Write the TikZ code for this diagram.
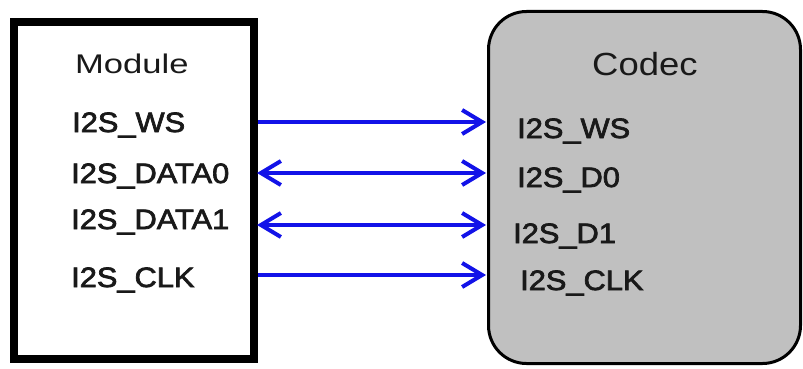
\documentclass[tikz,border=0pt]{standalone}
\usepackage{fontspec}
\setmainfont{Liberation Sans}
\newfontfamily\titlefontM[FakeStretch=1.28]{Liberation Sans}
\newfontfamily\titlefontC[FakeStretch=1.14]{Liberation Sans}
\newfontfamily\pinfont[FakeStretch=1.1,FakeBold=2.5]{Liberation Sans}
\usetikzlibrary{arrows.meta}
\definecolor{sigblue}{RGB}{18,18,232}
\definecolor{codecgray}{RGB}{192,192,192}
\definecolor{ink}{RGB}{25,25,25}
\begin{document}
\begin{tikzpicture}[x=1pt,y=-1pt,
  modulebox/.style={draw=black, line width=8pt, fill=white, rectangle,
    minimum width=240pt, minimum height=337pt, inner sep=0pt},
  codecbox/.style={draw=black, line width=3pt, fill=codecgray, rectangle,
    rounded corners=38pt, minimum width=312pt, minimum height=352pt, inner sep=0pt},
  pinlabel/.style={anchor=base west, inner sep=0pt, text=ink,
    font=\pinfont\fontsize{28pt}{30pt}\selectfont},
  signal/.style={draw=sigblue, line width=4pt,
    arrows={-Straight Barb[length=20pt,width=24pt,line width=4pt]}},
  bisignal/.style={signal,
    arrows={Straight Barb[length=20pt,width=24pt,line width=4pt]-Straight Barb[length=20pt,width=24pt,line width=4pt]}}]
  \useasboundingbox (0,0) rectangle (803,369);

  % blocks
  \node[modulebox] (module) at (134,190.5) {};
  \node[codecbox] (codec) at (644.5,187.5) {};

  % block titles
  \node[anchor=base west, inner sep=0pt, text=ink,
    font=\titlefontM\fontsize{27pt}{30pt}\selectfont] (mtitle) at (75,74) {Module};
  \node[anchor=base west, inner sep=0pt, text=ink,
    font=\titlefontC\fontsize{32pt}{36pt}\selectfont] (ctitle) at (592,76) {Codec};

  % module pins
  \node[pinlabel] (mws)  at (72,132) {I2S\_WS};
  \node[pinlabel] (md0)  at (71,183) {I2S\_DATA0};
  \node[pinlabel] (md1)  at (71,229) {I2S\_DATA1};
  \node[pinlabel] (mclk) at (71,287) {I2S\_CLK};

  % codec pins
  \node[pinlabel] (cws)  at (517,138) {I2S\_WS};
  \node[pinlabel] (cd0)  at (517,187) {I2S\_D0};
  \node[pinlabel] (cd1)  at (513,243) {I2S\_D1};
  \node[pinlabel] (cclk) at (520,290) {I2S\_CLK};

  % connection points on the block edges
  \coordinate (pws)  at (258,122);  \coordinate (qws)  at (486,122);
  \coordinate (pd0)  at (257,173);  \coordinate (qd0)  at (486,173);
  \coordinate (pd1)  at (257,225);  \coordinate (qd1)  at (486,225);
  \coordinate (pclk) at (258,275);  \coordinate (qclk) at (486,275);

  % I2S signals
  \draw[signal]   (pws)  -- (qws);
  \draw[bisignal] (pd0)  -- (qd0);
  \draw[bisignal] (pd1)  -- (qd1);
  \draw[signal]   (pclk) -- (qclk);
\end{tikzpicture}
\end{document}
